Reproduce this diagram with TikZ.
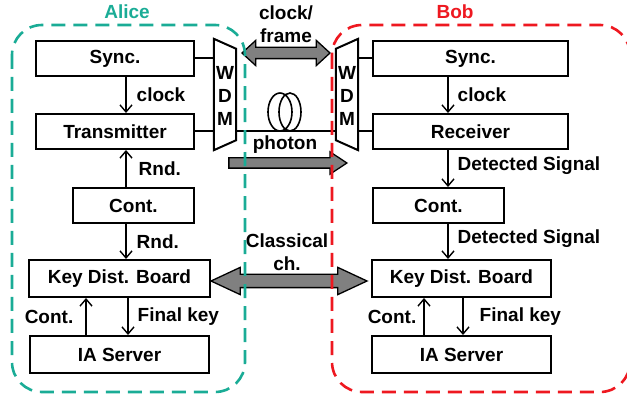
\documentclass[tikz,border=0pt]{standalone}
\usepackage{fontspec}
\setmainfont{Liberation Sans}
\usetikzlibrary{arrows.meta,shapes.arrows}
\definecolor{alicecol}{RGB}{26,172,150}
\definecolor{bobcol}{RGB}{238,24,32}
\definecolor{fatgray}{RGB}{128,128,128}

\begin{document}
\begin{tikzpicture}[x=1pt,y=-1pt,
    every node/.style={font=\fontsize{19}{23}\selectfont\bfseries},
    blk/.style={draw=black,line width=2pt,fill=white,minimum height=35pt,inner sep=0pt},
    wdm/.style={minimum width=22pt,minimum height=111pt,inner sep=0pt,align=center},
    wire/.style={line width=2pt},
    sig/.style={line width=1.4pt,-{Straight Barb[length=7pt,width=12pt]}},
    lbl/.style={inner sep=0pt},
    party/.style={line width=2.6pt,dash pattern=on 14pt off 8pt,rounded corners=30pt},
    fat/.style={draw=black,line width=1.3pt,fill=fatgray,inner xsep=0pt}]
\useasboundingbox (0,0) rectangle (627,398);

% Alice side
\node[blk,minimum width=158pt] (syncA) at (115,58.5) {Sync.};
\node[blk,minimum width=158pt] (txA) at (115,131.5) {Transmitter};
\node[blk,minimum width=121pt] (contA) at (133.5,205.5) {Cont.};
\node[blk,minimum width=181pt,minimum height=37pt] (kdbA) at (119.5,278.5) {Key Dist. Board};
\node[blk,minimum width=179pt,minimum height=37pt] (iaA) at (119.5,354.5) {IA Server};
\node[wdm] (wdmA) at (225,96) {W\\D\\M};

% Bob side
\node[blk,minimum width=195pt] (syncB) at (470.5,58.5) {Sync.};
\node[blk,minimum width=195pt] (rxB) at (470.5,131.5) {Receiver};
\node[blk,minimum width=131pt] (contB) at (438.5,205.5) {Cont.};
\node[blk,minimum width=179pt,minimum height=37pt] (kdbB) at (461.5,278.5) {Key Dist. Board};
\node[blk,minimum width=179pt,minimum height=37pt] (iaB) at (461.5,354.5) {IA Server};
\node[wdm] (wdmB) at (347,96) {W\\D\\M};

% WDM outlines
\draw[wire] ([yshift=1.5pt]wdmA.north west) -- ([yshift=-8.5pt]wdmA.north east)
    -- ([yshift=11.5pt]wdmA.south east) -- ([yshift=1.5pt]wdmA.south west) -- cycle;
\draw[wire] ([yshift=1.5pt]wdmB.north east) -- ([yshift=-8.5pt]wdmB.north west)
    -- ([yshift=11.5pt]wdmB.south west) -- ([yshift=1.5pt]wdmB.south east) -- cycle;

% fibres
\draw[wire] (syncA.east) -- (syncA.east -| wdmA.west);
\draw[wire] (txA.east) -- (txA.east -| wdmA.west);
\draw[wire] (wdmA.east |- txA.east) -- (wdmB.west |- rxB.west);
\draw[wire] (syncB.west) -- (syncB.west -| wdmB.east);
\draw[wire] (rxB.west) -- (rxB.west -| wdmB.east);
\draw[line width=1.6pt] (280,112) ellipse (12 and 19);
\draw[line width=1.6pt] (290,112) ellipse (11 and 19);

% fat arrows
\node[fat,double arrow,minimum height=88pt,inner ysep=5pt,double arrow head extend=7pt,double arrow tip angle=85] (cfarrow) at (286,53) {};
\node[fat,single arrow,minimum height=118pt,inner ysep=4.5pt,single arrow head extend=6pt,single arrow tip angle=67] (pharrow) at (284,163) {};
\node[fat,double arrow,minimum height=156pt,inner ysep=6pt,double arrow head extend=7pt,double arrow tip angle=50] (clarrow) at (289,281) {};

\node[align=center] (cflbl) at (286,24) {clock/\\frame};
\node (phlbl) at (285,145) {photon};
\node[align=center] (cllbl) at (287,252) {Classical\\ch.};

% signals
\coordinate (colA) at (126,0);
\coordinate (contcolA) at (86,0);
\coordinate (keycolA) at (128,0);
\coordinate (colB) at (448,0);
\coordinate (contcolB) at (424,0);
\coordinate (keycolB) at (463,0);

\draw[sig] (syncA.south -| colA) -- node[lbl,right=10pt] {clock} (txA.north -| colA);
\draw[sig] (contA.north -| colA) -- node[lbl,right=12pt] {Rnd.} (txA.south -| colA);
\draw[sig] (contA.south -| colA) -- node[lbl,right=10pt] {Rnd.} (kdbA.north -| colA);
\draw[sig] (iaA.north -| contcolA) -- node[lbl,left=12pt] {Cont.} (kdbA.south -| contcolA);
\draw[sig] (kdbA.south -| keycolA) -- node[lbl,right=9pt] {Final key} (iaA.north -| keycolA);

\draw[sig] (syncB.south -| colB) -- node[lbl,right=9pt] {clock} (rxB.north -| colB);
\draw[sig] (rxB.south -| colB) -- node[lbl,right=9pt,yshift=3pt] {Detected Signal} (contB.north -| colB);
\draw[sig] (contB.south -| colB) -- node[lbl,right=9pt,yshift=3pt] {Detected Signal} (kdbB.north -| colB);
\draw[sig] (iaB.north -| contcolB) -- node[lbl,left=7pt] {Cont.} (kdbB.south -| contcolB);
\draw[sig] (kdbB.south -| keycolB) -- node[lbl,right=16pt] {Final key} (iaB.north -| keycolB);

% parties
\node[text=alicecol] (alice) at (127,12) {Alice};
\node[text=bobcol] (bob) at (455,12) {Bob};
\draw[party,draw=alicecol] (12,25) rectangle (245,392);
\draw[party,draw=bobcol] (332,25) rectangle (630,392);
\end{tikzpicture}
\end{document}
